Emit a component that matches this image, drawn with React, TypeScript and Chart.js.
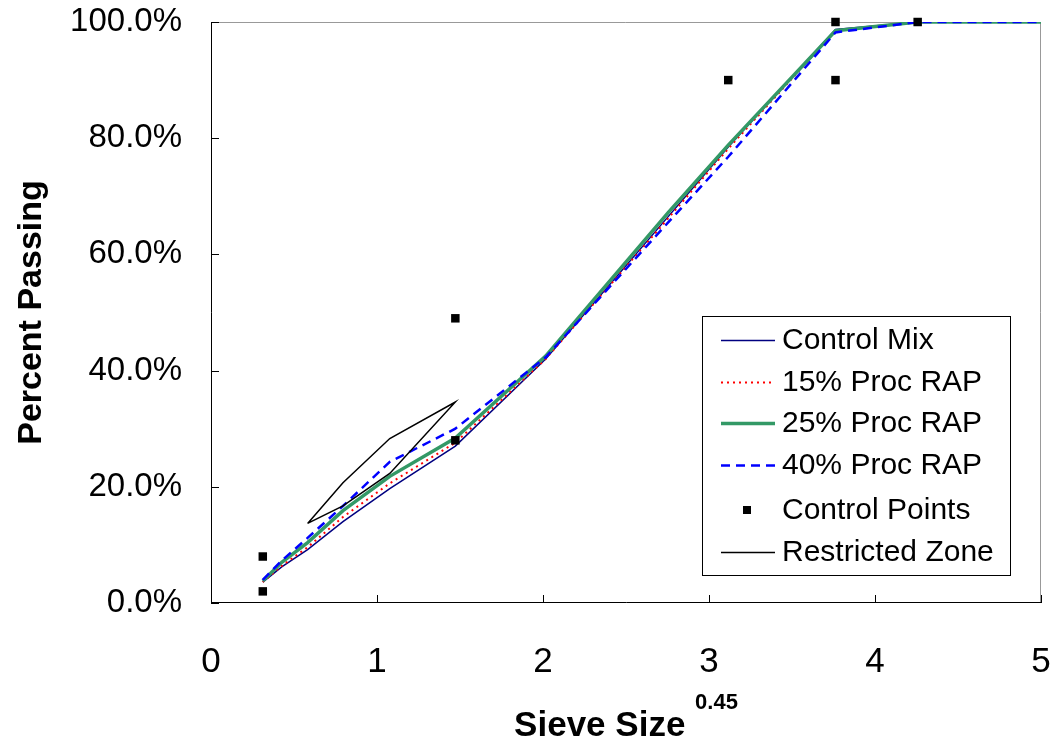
import React, { useEffect, useRef } from "react";
import { Chart, registerables } from "chart.js";

Chart.register(...registerables);

// Sieve size ^0.45 positions (0.075, 0.15, 0.3, 0.6, 1.18, 2.36, 4.75, 9.5, 12.5, 19, 25, 37.5 mm)
const sieveX = [0.312, 0.426, 0.582, 0.795, 1.077, 1.472, 2.016, 2.754, 3.116, 3.762, 4.257, 5.11];
const controlMix = [3.6, 6.2, 9.2, 14.0, 19.7, 27.0, 42.0, 66.5, 78.5, 98.7, 100, 100];
const proc15 = [3.6, 6.4, 9.6, 14.8, 20.6, 27.6, 42.0, 66.2, 78.2, 98.5, 100, 100];
const proc25 = [3.8, 7.0, 10.4, 15.9, 21.8, 28.4, 42.5, 67.2, 78.8, 98.5, 100, 100];
const proc40 = [4.0, 7.3, 11.2, 16.7, 24.3, 30.0, 42.3, 65.5, 76.8, 98.2, 100, 100];

const controlX = [0.312, 0.312, 1.472, 1.472, 3.116, 3.762, 3.762, 4.257];
const controlY = [2, 8, 28, 49, 90, 90, 100, 100];

const zoneX = [0.582, 0.795, 1.077, 1.472, 1.077, 0.795, 0.582];
const zoneY = [13.7, 20.7, 28.3, 34.6, 22.3, 16.7, 13.7];

const xTicks = [0, 1, 2, 3, 4, 5];
const yTicks = [0, 20, 40, 60, 80, 100];

const seriesLabels = ["Control Mix", "15% Proc RAP", "25% Proc RAP", "40% Proc RAP", "Control Points", "Restricted Zone"];
const xTitle = "Sieve Size";
const xTitleSup = "0.45";
const yTitle = "Percent Passing";

const SANS = '"Liberation Sans", Arial, sans-serif';

const pts = (xs: number[], ys: number[]) => xs.map((x, i) => ({ x, y: ys[i] }));

const styles = [
  { color: "#000080", width: 1.5, dash: [] as number[] },
  { color: "#FF0000", width: 2, dash: [2, 4] },
  { color: "#339966", width: 3.5, dash: [] as number[] },
  { color: "#0000FF", width: 2.5, dash: [9, 6] },
  { color: "#000000", width: 0, dash: [] as number[] },
  { color: "#000000", width: 1.5, dash: [] as number[] },
];

const framePlugin = {
  id: "frame",
  beforeDatasetsDraw(chart: any) {
    const { ctx, chartArea: a, scales } = chart;
    ctx.save();
    ctx.lineWidth = 1;
    ctx.strokeStyle = "#999999";
    ctx.beginPath();
    ctx.moveTo(a.left, a.top + 0.5);
    ctx.lineTo(a.right - 0.5, a.top + 0.5);
    ctx.lineTo(a.right - 0.5, a.bottom);
    ctx.stroke();
    ctx.strokeStyle = "#000000";
    ctx.beginPath();
    ctx.moveTo(a.left + 0.5, a.top);
    ctx.lineTo(a.left + 0.5, a.bottom - 0.5);
    ctx.lineTo(a.right, a.bottom - 0.5);
    ctx.stroke();
    ctx.beginPath();
    for (const v of yTicks) {
      const y = Math.round(scales.y.getPixelForValue(v)) + 0.5;
      ctx.moveTo(a.left, y);
      ctx.lineTo(a.left + 8, y);
    }
    for (const v of xTicks) {
      const x = Math.round(scales.x.getPixelForValue(v)) + 0.5;
      ctx.moveTo(x, a.bottom);
      ctx.lineTo(x, a.bottom - 8);
    }
    ctx.stroke();
    ctx.restore();
  },
  afterDraw(chart: any) {
    const { ctx, chartArea: a } = chart;
    ctx.save();
    // axis titles
    ctx.fillStyle = "#000";
    ctx.textBaseline = "alphabetic";
    ctx.font = `bold 35px ${SANS}`;
    const w1 = ctx.measureText(xTitle + " ").width;
    ctx.font = `bold 22px ${SANS}`;
    const w2 = ctx.measureText(xTitleSup).width;
    const cx = (a.left + a.right) / 2;
    const sx = cx - (w1 + w2) / 2;
    ctx.font = `bold 35px ${SANS}`;
    ctx.textAlign = "left";
    ctx.fillText(xTitle + " ", sx, 736);
    ctx.font = `bold 22px ${SANS}`;
    ctx.fillText(xTitleSup, sx + w1, 709);

    ctx.translate(41, (a.top + a.bottom) / 2);
    ctx.rotate(-Math.PI / 2);
    ctx.textAlign = "center";
    ctx.font = `bold 34px ${SANS}`;
    ctx.fillText(yTitle, 0, 0);
    ctx.restore();

    // legend
    ctx.save();
    const bx = 702.5, by = 316.5, bw = 308, bh = 259;
    ctx.fillStyle = "#fff";
    ctx.fillRect(bx, by, bw, bh);
    ctx.strokeStyle = "#000";
    ctx.lineWidth = 1;
    ctx.strokeRect(bx, by, bw, bh);
    const rows = [340, 381.5, 423, 465, 510, 552];
    ctx.font = `30px ${SANS}`;
    ctx.textBaseline = "middle";
    ctx.textAlign = "left";
    seriesLabels.forEach((lab, i) => {
      const y = rows[i];
      const s = styles[i];
      if (i === 4) {
        ctx.fillStyle = "#000";
        ctx.fillRect(743, y - 4, 8, 8);
      } else {
        ctx.strokeStyle = s.color;
        ctx.lineWidth = s.width;
        ctx.setLineDash(s.dash);
        ctx.beginPath();
        ctx.moveTo(721, Math.round(y) + 0.5);
        ctx.lineTo(775, Math.round(y) + 0.5);
        ctx.stroke();
        ctx.setLineDash([]);
      }
      ctx.fillStyle = "#000";
      ctx.fillText(lab, 782, y + 1);
    });
    ctx.restore();
  },
};

export default function App() {
  const ref = useRef<HTMLCanvasElement>(null);
  useEffect(() => {
    const lineDs = (i: number, ys: number[], order: number) => ({
      label: seriesLabels[i],
      data: pts(sieveX, ys),
      showLine: true,
      borderColor: styles[i].color,
      borderWidth: styles[i].width,
      borderDash: styles[i].dash,
      pointRadius: 0,
      fill: false,
      tension: 0,
      order,
    });
    const chart = new Chart(ref.current as HTMLCanvasElement, {
      type: "scatter",
      data: {
        datasets: [
          lineDs(0, controlMix, 5),
          lineDs(1, proc15, 4),
          lineDs(2, proc25, 3),
          lineDs(3, proc40, 2),
          {
            label: seriesLabels[4],
            data: pts(controlX, controlY),
            showLine: false,
            pointStyle: "rect",
            pointRadius: 6,
            pointBackgroundColor: "#000",
            pointBorderWidth: 0,
            clip: false,
            order: 1,
          } as any,
          {
            label: seriesLabels[5],
            data: pts(zoneX, zoneY),
            showLine: true,
            borderColor: "#000",
            borderWidth: 1.5,
            pointRadius: 0,
            fill: false,
            tension: 0,
            order: 0,
          },
        ],
      },
      options: {
        animation: false,
        responsive: true,
        maintainAspectRatio: false,
        layout: { padding: { top: 22, right: 16, left: 0, bottom: 0 } },
        plugins: { legend: { display: false }, tooltip: { enabled: false } },
        scales: {
          x: {
            type: "linear",
            min: 0,
            max: 5,
            grid: { display: false, drawTicks: false },
            border: { display: false },
            ticks: {
              stepSize: 1,
              color: "#000",
              padding: 38,
              font: { family: SANS, size: 35 },
            },
            afterFit: (s: any) => {
              s.height = 143;
              s.paddingLeft = 0;
              s.paddingRight = 0;
            },
          },
          y: {
            min: 0,
            max: 100,
            grid: { display: false, drawTicks: false },
            border: { display: false },
            ticks: {
              stepSize: 20,
              color: "#000",
              padding: 29,
              font: { family: SANS, size: 33 },
              callback: (v: any) => Number(v).toFixed(1) + "%",
            },
            afterFit: (s: any) => {
              s.width = 211;
              s.paddingTop = 0;
              s.paddingBottom = 0;
            },
          },
        },
      },
      plugins: [framePlugin],
    });
    return () => chart.destroy();
  }, []);
  return (
    <div style={{ position: "fixed", left: 0, top: 0, width: 1057, height: 746, background: "#fff" }}>
      <canvas ref={ref} />
    </div>
  );
}
